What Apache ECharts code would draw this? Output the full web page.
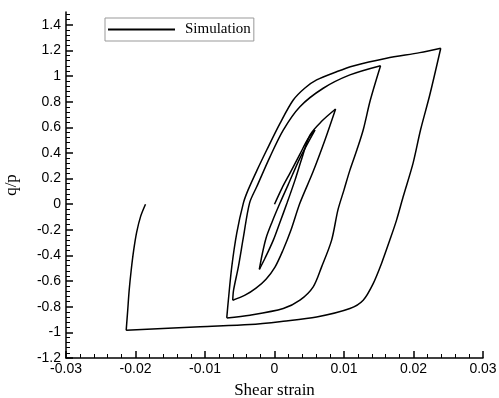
<!DOCTYPE html>
<html>
<head>
<meta charset="utf-8">
<script src="https://cdn.jsdelivr.net/npm/echarts@6/dist/echarts.min.js"></script>
<style>
html,body{margin:0;padding:0;background:#fff;}
#chart{width:499px;height:398px;}
</style>
</head>
<body>
<div id="chart"></div>
<script>
// Loading path split into branches (shear strain, q/p), in order
var load1Strain   = [0, 0.00108, 0.00223, 0.00366, 0.00481, 0.00582];
var load1Ratio    = [0, 0.126, 0.243, 0.391, 0.509, 0.579];
var unload1Strain = [0.00582, 0.00366, 0.00194, 0.00079, -0.00036, -0.00122, -0.00180, -0.00218];
var unload1Ratio  = [0.579, 0.360, 0.149, 0.009, -0.140, -0.265, -0.398, -0.509];
var load2Strain   = [-0.00218, -0.00137, -0.00017, 0.00079, 0.00180, 0.00295, 0.00395, 0.00510, 0.00682, 0.00879];
var load2Ratio    = [-0.509, -0.422, -0.280, -0.140, 0.009, 0.188, 0.360, 0.540, 0.649, 0.743];
var unload2Strain = [0.00879, 0.00726, 0.00553, 0.00366, 0.00237, 0.00122, 0.00007, -0.00122, -0.00266, -0.00424, -0.00601];
var unload2Ratio  = [0.743, 0.501, 0.251, 0.009, -0.202, -0.359, -0.491, -0.585, -0.655, -0.710, -0.749];
var load3Strain   = [-0.00601, -0.00589, -0.00520, -0.00448, -0.00359, -0.00256, -0.00065, 0.00126, 0.00366, 0.00701, 0.01085, 0.01526];
var load3Ratio    = [-0.749, -0.671, -0.489, -0.259, 0.009, 0.136, 0.370, 0.579, 0.761, 0.905, 1.009, 1.081];
var unload3Strain = [0.01526, 0.01379, 0.01276, 0.01185, 0.01085, 0.00999, 0.00912, 0.00822, 0.00678, 0.00557, 0.00366, 0.00126, -0.00352, -0.00687];
var unload3Ratio  = [1.081, 0.813, 0.579, 0.423, 0.266, 0.110, -0.046, -0.280, -0.489, -0.645, -0.749, -0.814, -0.866, -0.887];
var load4Strain   = [-0.00687, -0.00664, -0.00615, -0.00543, -0.00448, -0.00381, -0.00251, -0.00112, 0.00079, 0.00270, 0.00438, 0.00606, 0.00894, 0.01132, 0.01612, 0.02091, 0.02392];
var load4Ratio    = [-0.887, -0.749, -0.489, -0.226, 0.009, 0.110, 0.266, 0.423, 0.631, 0.813, 0.907, 0.970, 1.034, 1.079, 1.139, 1.183, 1.217];
var unload4Strain = [0.02392, 0.02234, 0.02101, 0.01994, 0.01851, 0.01756, 0.01659, 0.01540, 0.01420, 0.01276, 0.01085, 0.00606, 0.00126, -0.00352, -0.01070, -0.02134];
var unload4Ratio  = [1.217, 0.852, 0.579, 0.321, 0.058, -0.124, -0.280, -0.462, -0.619, -0.749, -0.814, -0.880, -0.913, -0.939, -0.956, -0.984];
var load5Strain   = [-0.02134, -0.02112, -0.02091, -0.02062, -0.02026, -0.01983, -0.01925, -0.01856];
var load5Ratio    = [-0.984, -0.827, -0.671, -0.515, -0.359, -0.218, -0.093, 0];

var xTicks = [-0.03, -0.02, -0.01, 0, 0.01, 0.02, 0.03];
var yTicks = [-1.2, -1, -0.8, -0.6, -0.4, -0.2, 0, 0.2, 0.4, 0.6, 0.8, 1, 1.2, 1.4];
var seriesName = 'Simulation';
var xName = 'Shear strain';
var yName = 'q/p';

var branches = [
  [load1Strain, load1Ratio], [unload1Strain, unload1Ratio],
  [load2Strain, load2Ratio], [unload2Strain, unload2Ratio],
  [load3Strain, load3Ratio], [unload3Strain, unload3Ratio],
  [load4Strain, load4Ratio], [unload4Strain, unload4Ratio],
  [load5Strain, load5Ratio]
];

var sans = '"Liberation Sans", Arial, sans-serif';
var serif = '"Liberation Serif", "Times New Roman", serif';

var series = branches.map(function (b) {
  return {
    name: seriesName,
    type: 'line',
    data: b[0].map(function (x, i) { return [x, b[1][i]]; }),
    symbol: 'none',
    smooth: 0.3,
    lineStyle: {color: '#000', width: 1.5},
    itemStyle: {color: '#000'}
  };
});

var chart = echarts.init(document.getElementById('chart'), null, {renderer: 'canvas'});
chart.setOption({
  animation: false,
  backgroundColor: '#fff',
  grid: {left: 66, right: 16, top: 12, bottom: 40, containLabel: false, outerBoundsMode: 'none'},
  legend: {
    left: 105, top: 18,
    padding: [4, 3, 4, 3],
    borderColor: '#999', borderWidth: 1,
    itemWidth: 67, itemHeight: 2,
    icon: 'rect',
    itemStyle: {color: '#000'},
    textStyle: {fontFamily: serif, fontSize: 15, color: '#000', padding: [0, 0, 0, 5]},
    data: [seriesName]
  },
  xAxis: {
    type: 'value', min: -0.03, max: 0.03, interval: 0.01,
    name: xName, nameLocation: 'middle', nameGap: 24,
    nameTextStyle: {fontFamily: serif, fontSize: 17, color: '#000'},
    axisLine: {show: true, onZero: false, lineStyle: {color: '#000', width: 1.5}},
    axisTick: {show: true, inside: true, length: 7, lineStyle: {color: '#000', width: 1.5}, customValues: xTicks},
    minorTick: {show: true, splitNumber: 5, length: 4, lineStyle: {color: '#000', width: 1}},
    axisLabel: {fontFamily: sans, fontSize: 14, color: '#000', margin: 4, customValues: xTicks},
    splitLine: {show: false}
  },
  yAxis: {
    type: 'value', min: -1.2, max: 1.5, interval: 0.2,
    name: yName, nameLocation: 'middle', nameGap: 46,
    nameTextStyle: {fontFamily: serif, fontSize: 17, color: '#000'},
    axisLine: {show: true, onZero: false, lineStyle: {color: '#000', width: 1.5}},
    axisTick: {show: true, inside: true, length: 7, lineStyle: {color: '#000', width: 1.5}, customValues: yTicks},
    minorTick: {show: true, splitNumber: 5, length: 4, lineStyle: {color: '#000', width: 1}},
    axisLabel: {fontFamily: sans, fontSize: 14, color: '#000', margin: 5, customValues: yTicks},
    splitLine: {show: false}
  },
  series: series
});
</script>
</body>
</html>
